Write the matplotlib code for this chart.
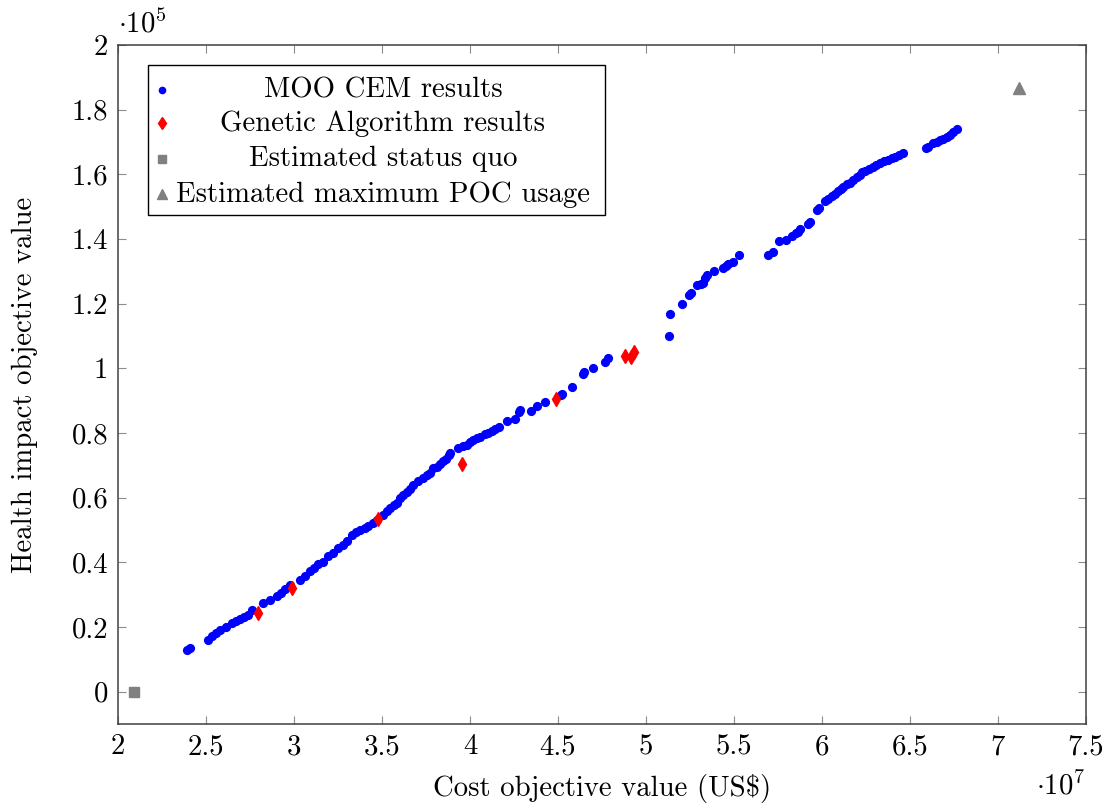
import numpy as np
import matplotlib
matplotlib.use("Agg")
import matplotlib.pyplot as plt
from matplotlib.patches import Rectangle

plt.rcParams["font.family"] = "cmr10"
plt.rcParams["mathtext.fontset"] = "cm"
plt.rcParams["axes.formatter.use_mathtext"] = True

FS = 20.7

# cost in 1e7 US$, health impact in 1e5
cost_moo = [2.390, 2.409, 2.513, 2.532, 2.557, 2.580, 2.614, 2.646, 2.670, 2.693,
            2.716, 2.740, 2.760, 2.826, 2.864, 2.902, 2.926, 2.949, 2.977, 3.034,
            3.063, 3.091, 3.114, 3.138, 3.165, 3.195, 3.222, 3.252, 3.278, 3.299,
            3.328, 3.352, 3.375, 3.403, 3.422, 3.449, 3.472, 3.507, 3.528, 3.545,
            3.568, 3.584, 3.602, 3.619, 3.640, 3.659, 3.678, 3.705, 3.735, 3.756,
            3.773, 3.792, 3.811, 3.830, 3.848, 3.864, 3.882, 3.886, 3.934, 3.960,
            3.981, 4.000, 4.019, 4.040, 4.057, 4.085, 4.104, 4.125, 4.142, 4.166,
            4.208, 4.256, 4.280, 4.287, 4.347, 4.379, 4.426, 4.517, 4.521, 4.578,
            4.644, 4.648, 4.701, 4.767, 4.786, 5.132, 5.138, 5.206, 5.246, 5.256,
            5.291, 5.312, 5.326, 5.335, 5.345, 5.386, 5.439, 5.455, 5.468, 5.493,
            5.530, 5.695, 5.723, 5.757, 5.797, 5.828, 5.852, 5.865, 5.875, 5.920,
            5.932, 5.972, 5.985, 6.017, 6.034, 6.055, 6.074, 6.093, 6.108, 6.121,
            6.142, 6.159, 6.176, 6.197, 6.216, 6.227, 6.244, 6.267, 6.291, 6.307,
            6.330, 6.352, 6.377, 6.398, 6.415, 6.438, 6.462, 6.591, 6.604, 6.631,
            6.652, 6.670, 6.688, 6.710, 6.727, 6.744, 6.767]
health_moo = [0.130, 0.136, 0.161, 0.173, 0.182, 0.192, 0.201, 0.212, 0.219, 0.225,
              0.232, 0.238, 0.253, 0.274, 0.284, 0.297, 0.306, 0.317, 0.331, 0.346,
              0.359, 0.372, 0.383, 0.396, 0.402, 0.418, 0.430, 0.444, 0.454, 0.465,
              0.485, 0.495, 0.499, 0.507, 0.513, 0.522, 0.532, 0.547, 0.560, 0.568,
              0.578, 0.583, 0.599, 0.609, 0.616, 0.628, 0.640, 0.652, 0.661, 0.671,
              0.676, 0.692, 0.696, 0.705, 0.712, 0.720, 0.733, 0.739, 0.753, 0.760,
              0.764, 0.771, 0.777, 0.784, 0.789, 0.796, 0.800, 0.807, 0.812, 0.820,
              0.838, 0.843, 0.866, 0.870, 0.869, 0.882, 0.897, 0.918, 0.921, 0.941,
              0.983, 0.988, 1.001, 1.020, 1.032, 1.101, 1.168, 1.199, 1.227, 1.233,
              1.258, 1.262, 1.265, 1.280, 1.289, 1.302, 1.310, 1.317, 1.323, 1.330,
              1.350, 1.351, 1.361, 1.393, 1.396, 1.410, 1.419, 1.423, 1.430, 1.447,
              1.454, 1.490, 1.497, 1.516, 1.524, 1.533, 1.539, 1.547, 1.555, 1.562,
              1.569, 1.574, 1.583, 1.591, 1.598, 1.607, 1.611, 1.618, 1.624, 1.629,
              1.636, 1.640, 1.645, 1.651, 1.655, 1.660, 1.667, 1.682, 1.686, 1.696,
              1.701, 1.705, 1.709, 1.716, 1.722, 1.731, 1.740]

cost_ga = [2.797, 2.990, 3.476, 3.953, 4.487, 4.881, 4.915, 4.932]
health_ga = [0.243, 0.321, 0.534, 0.705, 0.905, 1.037, 1.034, 1.049]

cost_sq = [2.091]
health_sq = [0.0]

cost_max = [7.119]
health_max = [1.867]

labels = ["MOO CEM results", "Genetic Algorithm results",
          "Estimated status quo", "Estimated maximum POC usage"]

fig = plt.figure(figsize=(11.17, 8.08), dpi=100)
ax = fig.add_axes([0.1056, 0.104, 0.8666, 0.8403])

ax.plot(cost_moo, health_moo, ls="none", marker="o", ms=5.6, color="blue", mec="blue")
ax.plot(cost_ga, health_ga, ls="none", marker="d", ms=7, color="red", mec="red")
ax.plot(cost_sq, health_sq, ls="none", marker="s", ms=6.5, color="gray", mec="gray")
ax.plot(cost_max, health_max, ls="none", marker="^", ms=8, color="gray", mec="gray")

ax.set_xlim(2, 7.5)
ax.set_ylim(-0.1, 2.0)
ax.set_xticks(np.arange(2, 7.51, 0.5))
ax.set_yticks(np.arange(0, 2.01, 0.2))
ax.set_xticklabels(["%g" % v for v in np.arange(2, 7.51, 0.5)])
ax.set_yticklabels(["%g" % round(v, 1) for v in np.arange(0, 2.01, 0.2)])
ax.tick_params(direction="in", length=6, width=0.8, color="0.55",
               top=True, right=True, labelsize=FS, pad=7)
for s in ax.spines.values():
    s.set_color("0.25")
    s.set_linewidth(1.1)

ax.set_xlabel("Cost objective value (US$)", fontsize=FS, labelpad=10)
ax.set_ylabel("Health impact objective value", fontsize=FS, labelpad=24)

ax.text(0.0, 1.01, r"$\cdot 10^{5}$", transform=ax.transAxes, fontsize=FS,
        ha="left", va="bottom")
ax.text(1.0, -0.07, r"$\cdot 10^{7}$", transform=ax.transAxes, fontsize=FS,
        ha="right", va="top")

# legend box with centred entries
ax.add_patch(Rectangle((0.031, 0.7496), 0.472, 0.2209, transform=ax.transAxes,
                       fill=True, fc="white", ec="black", lw=1.0, zorder=5))
rows = [0.933, 0.8845, 0.8325, 0.780]
styles = [("o", 4.5, "blue"), ("d", 6, "red"), ("s", 5.5, "gray"), ("^", 7, "gray")]
for yy, (m, ms, c), lab in zip(rows, styles, labels):
    ax.plot([0.0455], [yy], ls="none", marker=m, ms=ms, color=c, mec=c,
            transform=ax.transAxes, zorder=6, clip_on=False)
    ax.text(0.2737, yy, lab, transform=ax.transAxes, fontsize=FS,
            ha="center", va="center", zorder=6)

fig.savefig("out.png", dpi=100)
